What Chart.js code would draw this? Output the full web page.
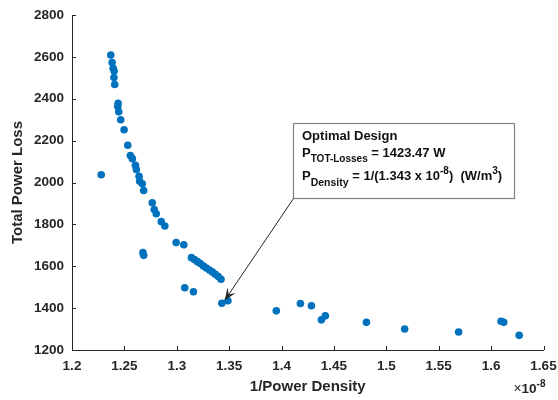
<!DOCTYPE html>
<html>
<head>
<meta charset="utf-8">
<script src="https://cdn.jsdelivr.net/npm/chart.js@4.4.1/dist/chart.umd.min.js"></script>
<style>
  html, body { margin: 0; padding: 0; background: #fff; }
</style>
</head>
<body>
<canvas id="paretoChart" width="558" height="400"></canvas>
<script>
// 1/Power Density values, in units of 1e-8
const invDensity = [
  1.2370, 1.2383, 1.2393, 1.2402, 1.2400, 1.2408, 1.2440, 1.2437, 1.2446, 1.2465,
  1.2497, 1.2532, 1.2557, 1.2576, 1.2605, 1.2614, 1.2640, 1.2646, 1.2671, 1.2684,
  1.2279, 1.2766, 1.2785, 1.2804, 1.2852, 1.2886, 1.2994, 1.3067, 1.2677, 1.2684,
  1.3140, 1.3168, 1.3197, 1.3225, 1.3254, 1.3282, 1.3311, 1.3339, 1.3368, 1.3396,
  1.3422, 1.3076, 1.3159, 1.3430, 1.3488, 1.3950, 1.4180, 1.4285, 1.4380, 1.4418,
  1.4810, 1.5175, 1.5690, 1.6095, 1.6120, 1.6268
];
// Total power loss (W)
const totalLoss = [
  2609, 2573, 2546, 2533, 2501, 2468, 2378, 2363, 2338, 2300,
  2252, 2178, 2129, 2114, 2082, 2062, 2030, 2006, 1994, 1962,
  2037, 1903, 1871, 1851, 1813, 1792, 1713, 1703, 1665, 1652,
  1641, 1632, 1622, 1613, 1601, 1592, 1582, 1573, 1562, 1551,
  1538, 1497, 1478, 1423.47, 1435, 1387, 1422, 1411, 1344, 1363,
  1332, 1300, 1286, 1337, 1332, 1270
];
const xTicks = [1.2, 1.25, 1.3, 1.35, 1.4, 1.45, 1.5, 1.55, 1.6, 1.65];
const yTicks = [1200, 1400, 1600, 1800, 2000, 2200, 2400, 2600, 2800];
const optimal = { x: 1.343, y: 1423.47 };

const axisColor = "#262626";
const fontFamily = "'Liberation Sans', Arial, sans-serif";

// MATLAB style: tick marks inside the axes, annotation box with arrow, x10^-8 multiplier
const matlabBits = {
  id: "matlabBits",
  afterDraw(chart) {
    const { ctx, chartArea } = chart;
    const xs = chart.scales.x, ys = chart.scales.y;
    ctx.save();
    ctx.strokeStyle = axisColor;
    ctx.lineWidth = 1;
    ctx.beginPath();
    xTicks.forEach((v) => {
      const px = Math.round(xs.getPixelForValue(v)) + 0.5;
      ctx.moveTo(px, chartArea.bottom);
      ctx.lineTo(px, chartArea.bottom - 4);
    });
    yTicks.forEach((v) => {
      const py = Math.round(ys.getPixelForValue(v)) + 0.5;
      ctx.moveTo(chartArea.left, py);
      ctx.lineTo(chartArea.left + 4, py);
    });
    ctx.stroke();

    // exponent label, right aligned at the end of the x axis
    ctx.fillStyle = axisColor;
    ctx.textBaseline = "alphabetic";
    const expParts = [
      { t: "\u00d7", font: "14px " + fontFamily, dy: 0 },
      { t: "10", font: "bold 13.5px " + fontFamily, dy: 0 },
      { t: "-8", font: "bold 10px " + fontFamily, dy: -6 }
    ];
    let total = 0;
    expParts.forEach((p) => { ctx.font = p.font; p.w = ctx.measureText(p.t).width; total += p.w; });
    let ex = chartArea.right + 2 - total;
    const ey = 393;
    expParts.forEach((p) => { ctx.font = p.font; ctx.fillText(p.t, ex, ey + p.dy); ex += p.w; });

    // annotation box
    const bx = Math.round(xs.getPixelForValue(1.411)), by = Math.round(ys.getPixelForValue(2284));
    const bw = 221, bh = 75;
    ctx.fillStyle = "#fff";
    ctx.fillRect(bx, by, bw, bh);
    ctx.strokeStyle = "#808080";
    ctx.lineWidth = 1.2;
    ctx.strokeRect(bx + 0.5, by + 0.5, bw, bh);

    // arrow from box corner to optimal point
    const tx = xs.getPixelForValue(optimal.x) + 3, ty = ys.getPixelForValue(optimal.y) - 3;
    const sx = bx + 0.5, sy = by + bh + 0.5;
    const ang = Math.atan2(ty - sy, tx - sx);
    ctx.strokeStyle = "#262626";
    ctx.lineWidth = 1;
    ctx.beginPath();
    ctx.moveTo(sx, sy);
    ctx.lineTo(tx - 6 * Math.cos(ang), ty - 6 * Math.sin(ang));
    ctx.stroke();
    const hl = 12, hw = 5;
    const bxp = tx - hl * Math.cos(ang), byp = ty - hl * Math.sin(ang);
    const nx = -Math.sin(ang), ny = Math.cos(ang);
    ctx.fillStyle = "#262626";
    ctx.beginPath();
    ctx.moveTo(tx, ty);
    ctx.lineTo(bxp + hw * nx, byp + hw * ny);
    ctx.lineTo(tx - 7 * Math.cos(ang), ty - 7 * Math.sin(ang));
    ctx.lineTo(bxp - hw * nx, byp - hw * ny);
    ctx.closePath();
    ctx.fill();

    // annotation text
    const lx = bx + 9;
    const rich = (parts, x, y) => {
      parts.forEach((p) => {
        ctx.font = "bold " + p.size + "px " + fontFamily;
        ctx.fillText(p.t, x, y + (p.dy || 0));
        x += ctx.measureText(p.t).width;
      });
    };
    ctx.fillStyle = "#111";
    rich([{ t: "Optimal Design", size: 13 }], lx, by + 17);
    rich([
      { t: "P", size: 13 },
      { t: "TOT-Losses", size: 10, dy: 5.5 },
      { t: " = 1423.47 W", size: 13 }
    ], lx, by + 33.5);
    rich([
      { t: "P", size: 13 },
      { t: "Density", size: 10.5, dy: 5.5 },
      { t: " = 1/(1.343 x 10", size: 13 },
      { t: "-8", size: 10, dy: -6 },
      { t: ")  (W/m", size: 13 },
      { t: "3", size: 10, dy: -6 },
      { t: ")", size: 13 }
    ], lx, by + 57);
    ctx.restore();
  }
};

const ctx = document.getElementById("paretoChart");

new Chart(ctx, {
  type: "scatter",
  data: {
    datasets: [
      {
        label: "Designs",
        data: invDensity.map((x, i) => ({ x: x, y: totalLoss[i] })),
        backgroundColor: "#0072BD",
        borderWidth: 0,
        pointRadius: 3.8,
        pointHoverRadius: 3.8,
      },
    ],
  },
  options: {
    responsive: false,
    animation: false,
    layout: { padding: { top: 15, right: 14.5, left: 0, bottom: 0 } },
    plugins: {
      legend: { display: false },
      tooltip: { enabled: false },
    },
    scales: {
      x: {
        type: "linear",
        min: 1.2,
        max: 1.65,
        afterBuildTicks: (s) => { s.ticks = xTicks.map((v) => ({ value: v })); },
        afterFit: (s) => { s.height = 50; s.paddingLeft = 0; s.paddingRight = 0; },
        border: { color: axisColor, width: 1 },
        grid: { drawOnChartArea: false, drawTicks: false },
        ticks: {
          padding: 8,
          color: axisColor,
          font: { family: fontFamily, size: 13.5, weight: "bold" },
          callback: (v) => String(Number(v.toFixed(2))),
        },
        title: {
          display: true,
          text: "1/Power Density",
          color: axisColor,
          font: { family: fontFamily, size: 15, weight: "bold" },
          padding: { top: 0, bottom: 4 },
        },
      },
      y: {
        min: 1200,
        max: 2800,
        afterBuildTicks: (s) => { s.ticks = yTicks.map((v) => ({ value: v })); },
        afterFit: (s) => { s.width = 72; s.paddingTop = 0; s.paddingBottom = 0; },
        border: { color: axisColor, width: 1 },
        grid: { drawOnChartArea: false, drawTicks: false },
        ticks: {
          padding: 8,
          color: axisColor,
          font: { family: fontFamily, size: 13.5, weight: "bold" },
          callback: (v) => String(v),
        },
        title: {
          display: true,
          text: "Total Power Loss",
          color: axisColor,
          font: { family: fontFamily, size: 15, weight: "bold" },
          padding: { top: 9, bottom: 0 },
        },
      },
    },
  },
  plugins: [matlabBits],
});
</script>
</body>
</html>
